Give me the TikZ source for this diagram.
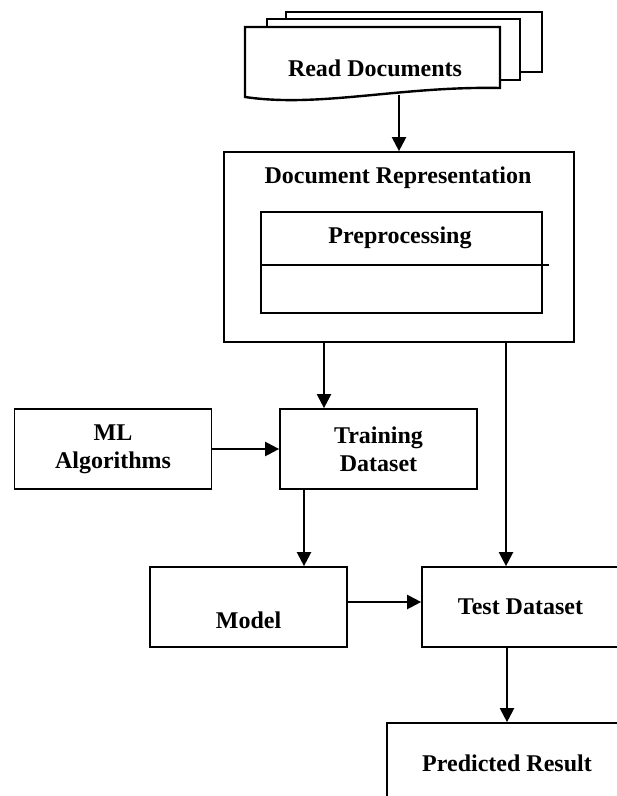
\documentclass[tikz,border=0pt]{standalone}
\usepackage{fontspec}
\setmainfont{Liberation Serif}
\usetikzlibrary{arrows.meta}
\begin{document}
\begin{tikzpicture}[x=0.5pt,y=-0.5pt,
        box/.style={draw,line width=0.85pt,minimum width=98.5pt,minimum height=40pt,inner sep=0pt,align=center},
        doc/.style={draw,line width=1.2pt,fill=white},
        arr/.style={-{Triangle[width=7pt,length=7pt]},line width=1.1pt},
        every node/.style={font=\fontsize{12}{14}\selectfont\bfseries}]
        \useasboundingbox (0,0) rectangle (616,796);
        % stacked documents
        \draw[doc] (286,12) rectangle (542,72);
        \draw[doc] (267,19) rectangle (520,80);
        \draw[doc] (245,27) -- (500,27) -- (500,88) .. controls (400,86) and (320,108) .. (245,97) -- cycle;
        \node[] (read) at (375,68) {Read Documents};
        \coordinate (docbot) at (398,95);
        % document representation
        \node[box,minimum width=175pt,minimum height=95pt] (docrep) at (399,247) {};
        \node[] (reptitle) at (398,178) {Document Representation};
        \node[box,minimum width=140.5pt,minimum height=50.5pt] (prep) at (401.5,262.5) {};
        \node[] (preptitle) at (400,238) {Preprocessing};
        \draw[line width=0.85pt] (prep.west |- 0,265) -- (549,265);
        % learning
        \node[box] (ml) at (113,449) {ML\\Algorithms};
        \node[box] (train) at (378.5,449) {Training\\Dataset};
        \node[box,label={[yshift=-6.5pt]center:Model}] (model) at (248.5,607) {};
        \node[box] (test) at (520.5,607) {Test Dataset};
        \node[box,minimum width=120pt] (pred) at (507,763) {Predicted Result};
        % arrows
        \draw[arr] (docrep.north |- docbot) -- (docrep.north);
        \draw[arr] ([xshift=-27.25pt]train.north |- docrep.south) -- ([xshift=-27.25pt]train.north);
        \draw[arr] ([xshift=-7.25pt]test.north |- docrep.south) -- ([xshift=-7.25pt]test.north);
        \draw[arr] (ml) -- (train);
        \draw[arr] ([xshift=-37.25pt]train.south) -- ([xshift=-37.25pt]train.south |- model.north);
        \draw[arr] ([yshift=2.5pt]model.east) -- ([yshift=2.5pt]test.west);
        \draw[arr] ([xshift=-6.75pt]test.south) -- ([xshift=-6.75pt]test.south |- pred.north);
\end{tikzpicture}
\end{document}
